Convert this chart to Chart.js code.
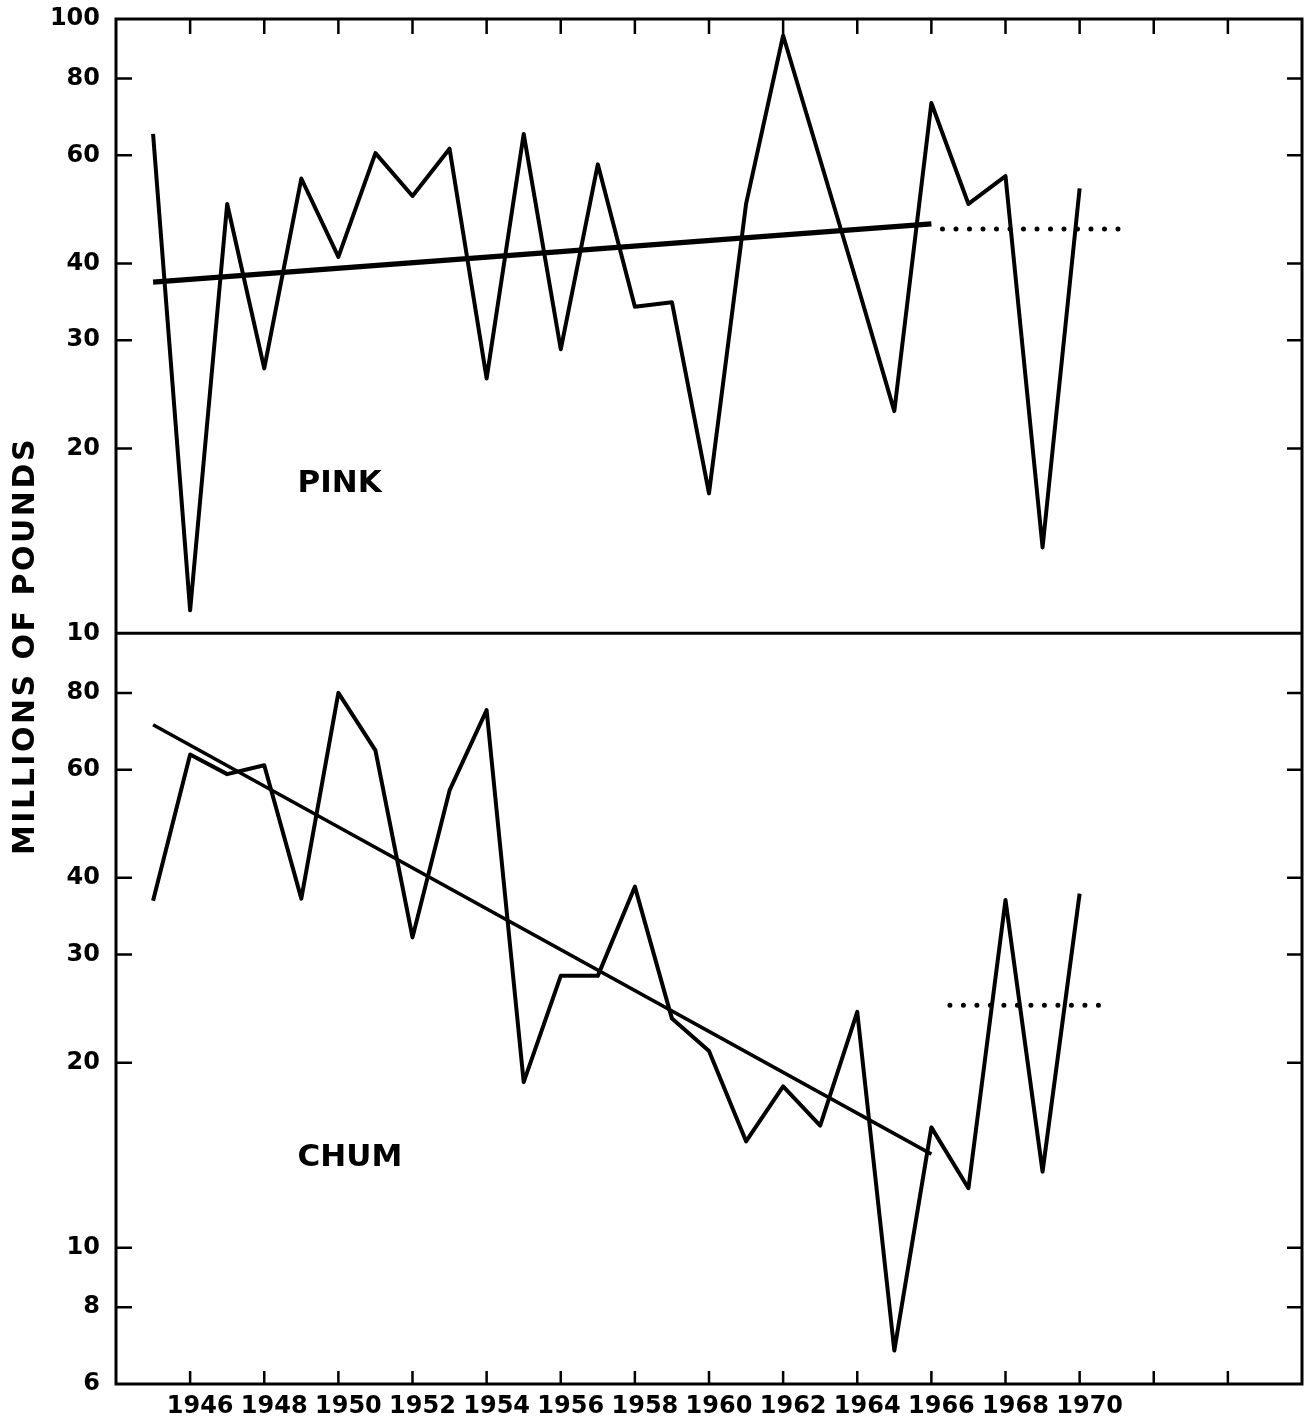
<!DOCTYPE html>
<html>
<head>
<meta charset="utf-8">
<title>Pink and chum salmon catch</title>
<script src="https://cdn.jsdelivr.net/npm/chart.js@4.4.1/dist/chart.umd.min.js"></script>
<style>
  html, body { margin: 0; padding: 0; background: #fff; }
  #wrap { position: relative; width: 1311px; height: 1421px; }
</style>
</head>
<body>
<div id="wrap"><canvas id="catch_chart"></canvas></div>
<script>
// yearly catch, millions of pounds
var years = [1945, 1946, 1947, 1948, 1949, 1950, 1951, 1952, 1953, 1954, 1955, 1956, 1957,
             1958, 1959, 1960, 1961, 1962, 1963, 1964, 1965, 1966, 1967, 1968, 1969, 1970];
var pinkCatch = [65, 10.9, 50, 27, 55, 41, 60.5, 51.5, 61.5, 26, 65, 29, 58,
                 34, 34.6, 16.9, 50, 94, 59, 37, 23, 73, 50, 55.5, 13.8, 53];
var chumCatch = [36.7, 63.5, 59, 61, 37, 80, 64.5, 32, 55.5, 75, 18.6, 27.7, 27.7,
                 38.7, 23.6, 20.9, 14.9, 18.3, 15.8, 24.2, 6.8, 15.7, 12.5, 36.8, 13.3, 37.7];

// fitted trends 1945-66 and the later level (dotted)
var pinkTrendYears = [1945, 1966];
var pinkTrend = [37.3, 46.4];
var pinkLevelYears = [1966.3, 1971.3];
var pinkLevel = [45.5, 45.5];
var chumTrendYears = [1945, 1966];
var chumTrend = [71, 14.2];
var chumLevelYears = [1966.5, 1970.8];
var chumLevel = [24.8, 24.8];

// axis ticks
var yearTicks = [1946, 1948, 1950, 1952, 1954, 1956, 1958, 1960, 1962, 1964, 1966, 1968, 1970, 1972, 1974];
var lastLabelledYear = 1970;
var pinkTicks = [10, 20, 30, 40, 60, 80, 100];
var chumTicks = [6, 8, 10, 20, 30, 40, 60, 80];

function pairs(xs, ys) {
  return xs.map(function(x, i) { return {x: x, y: ys[i]}; });
}

var tickFont = {family: 'DejaVu Sans', weight: 'bold', size: 24};

// frame, inward tick marks, panel names and the shared y title
var framePlugin = {
  id: 'frame',
  afterDatasetsDraw: function(chart) {
    var ctx = chart.ctx, a = chart.chartArea;
    var xs = chart.scales.x, yp = chart.scales.yPink, yc = chart.scales.yChum;
    ctx.save();
    ctx.strokeStyle = '#000';
    ctx.lineCap = 'butt';
    ctx.lineWidth = 3;
    ctx.strokeRect(a.left, a.top, a.right - a.left, a.bottom - a.top);
    ctx.beginPath();
    ctx.moveTo(a.left, yp.bottom);
    ctx.lineTo(a.right, yp.bottom);
    ctx.stroke();

    ctx.lineWidth = 2.5;
    ctx.beginPath();
    xs.ticks.forEach(function(t) {
      var px = xs.getPixelForValue(t.value);
      ctx.moveTo(px, a.top); ctx.lineTo(px, a.top + 15);
      ctx.moveTo(px, a.bottom); ctx.lineTo(px, a.bottom - 13);
    });
    [yp, yc].forEach(function(s) {
      s.ticks.forEach(function(t) {
        var py = s.getPixelForValue(t.value);
        if (Math.abs(py - s.top) < 3 || Math.abs(py - s.bottom) < 3) return;
        ctx.moveTo(a.left, py); ctx.lineTo(a.left + 16, py);
        ctx.moveTo(a.right, py); ctx.lineTo(a.right - 15, py);
      });
    });
    ctx.stroke();

    ctx.fillStyle = '#000';
    ctx.textBaseline = 'middle';
    ctx.textAlign = 'left';
    ctx.font = 'bold 31px "DejaVu Sans"';
    ctx.fillText('PINK', xs.getPixelForValue(1948.9), yp.getPixelForValue(17.5));
    ctx.fillText('CHUM', xs.getPixelForValue(1948.9), yc.getPixelForValue(14));

    ctx.translate(26, 646);
    ctx.rotate(-Math.PI / 2);
    ctx.textAlign = 'center';
    ctx.font = 'bold 30px "DejaVu Sans"';
    ctx.letterSpacing = '2.5px';
    ctx.fillText('MILLIONS OF POUNDS', 0, 0);
    ctx.restore();
  }
};

function logAxis(ticks, min, weight, stackWeight) {
  return {
    type: 'logarithmic',
    position: 'left',
    stack: 'catch',
    stackWeight: stackWeight,
    weight: weight,
    min: min,
    max: 100,
    bounds: 'data',
    afterBuildTicks: function(s) { s.ticks = ticks.map(function(v) { return {value: v}; }); },
    afterFit: function(s) {
      s.width = 116;
      // edge labels may overhang the frame
      s.paddingTop = 0;
      s.paddingBottom = 0;
    },
    grid: {display: false, drawTicks: false},
    border: {display: false},
    ticks: {
      autoSkip: false,
      padding: 16,
      color: '#000',
      font: tickFont,
      callback: function(v) { return String(v); }
    }
  };
}

new Chart(document.getElementById('catch_chart'), {
  type: 'line',
  data: {
    datasets: [
      {data: pairs(years, pinkCatch), yAxisID: 'yPink', borderWidth: 4},
      {data: pairs(pinkTrendYears, pinkTrend), yAxisID: 'yPink', borderWidth: 5.5},
      {data: pairs(pinkLevelYears, pinkLevel), yAxisID: 'yPink', borderWidth: 5,
       borderDash: [0, 13.5], borderCapStyle: 'round'},
      {data: pairs(years, chumCatch), yAxisID: 'yChum', borderWidth: 4},
      {data: pairs(chumTrendYears, chumTrend), yAxisID: 'yChum', borderWidth: 3.5},
      {data: pairs(chumLevelYears, chumLevel), yAxisID: 'yChum', borderWidth: 5,
       borderDash: [0, 13.5], borderCapStyle: 'round'}
    ]
  },
  options: {
    responsive: true,
    maintainAspectRatio: false,
    animation: false,
    devicePixelRatio: 1,
    layout: {padding: {top: 19, right: 9, left: 0, bottom: 0}},
    plugins: {legend: {display: false}, tooltip: {enabled: false}},
    elements: {
      point: {radius: 0},
      line: {borderColor: '#000', borderJoinStyle: 'round', tension: 0, fill: false}
    },
    scales: {
      x: {
        type: 'linear',
        position: 'bottom',
        min: 1944,
        max: 1976,
        bounds: 'data',
        afterBuildTicks: function(s) { s.ticks = yearTicks.map(function(v) { return {value: v}; }); },
        afterFit: function(s) {
          s.height = 37;
          s.paddingLeft = 0;
          s.paddingRight = 0;
        },
        grid: {display: false, drawTicks: false},
        border: {display: false},
        ticks: {
          autoSkip: false,
          maxRotation: 0,
          padding: 8,
          labelOffset: 10,
          color: '#000',
          font: tickFont,
          callback: function(v) { return v <= lastLabelledYear ? String(v) : ''; }
        }
      },
      yChum: logAxis(chumTicks, 6, 0, Math.log10(100 / 6)),
      yPink: logAxis(pinkTicks, 10, 1, 1)
    }
  },
  plugins: [framePlugin]
});
</script>
</body>
</html>
